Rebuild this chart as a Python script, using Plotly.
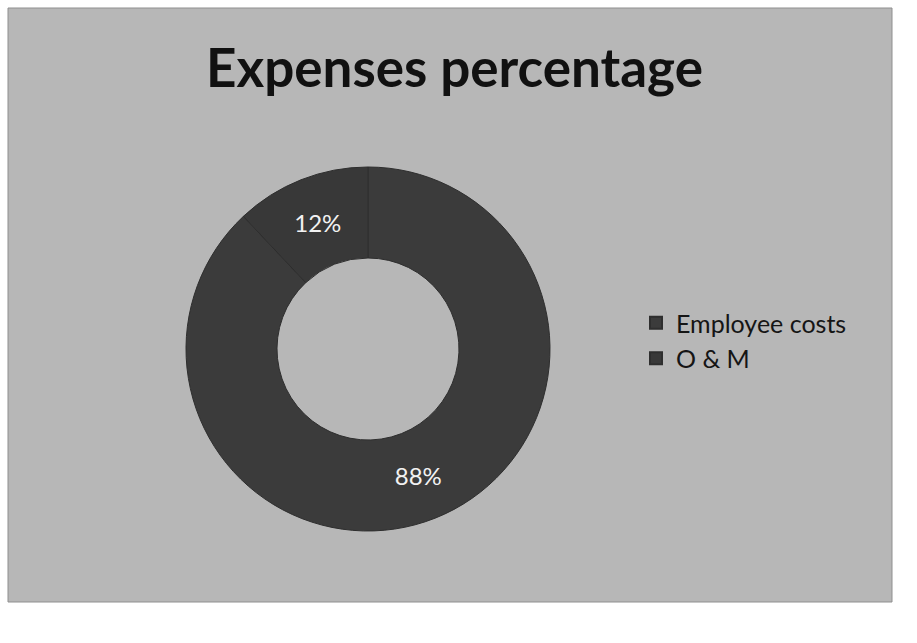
import plotly.graph_objects as go

# Data
categories = ["Employee costs", "O & M"]
values = [88, 12]
title_text = "Expenses percentage"

W, H = 917, 643

fig = go.Figure()
fig.add_trace(go.Pie(
    labels=categories,
    values=values,
    hole=0.5,
    sort=False,
    direction="clockwise",
    rotation=0,
    marker=dict(colors=["#3b3b3b", "#383838"], line=dict(color="#2e2e2e", width=1)),
    textinfo="percent",
    texttemplate="%{percent:.0%}",
    textposition="inside",
    insidetextorientation="horizontal",
    textfont=dict(family="Lato, Open Sans, sans-serif", size=24, color="#f2f2f2"),
    domain=dict(x=[186 / W, 550 / W], y=[1 - 531 / H, 1 - 167 / H]),
    showlegend=True,
))

fig.update_layout(
    width=W, height=H,
    margin=dict(l=0, r=0, t=0, b=0),
    paper_bgcolor="white",
    plot_bgcolor="rgba(0,0,0,0)",
    shapes=[
        dict(type="rect", xref="paper", yref="paper",
             x0=8 / W, x1=892 / W, y0=1 - 602 / H, y1=1 - 8 / H,
             fillcolor="#b7b7b7", line=dict(color="#8f8f8f", width=1), layer="below"),
    ],
    annotations=[
        dict(text="<b>" + title_text + "</b>", x=454 / W, y=1 - 66 / H,
             xref="paper", yref="paper", showarrow=False,
             xanchor="center", yanchor="middle",
             font=dict(family="Lato, Open Sans, sans-serif", size=53, color="#111111")),
    ],
    legend=dict(
        x=636 / W, y=1 - 300 / H, xanchor="left", yanchor="top",
        bgcolor="rgba(0,0,0,0)",
        font=dict(family="Lato, Open Sans, sans-serif", size=25, color="#151515"),
        itemsizing="constant",
        tracegroupgap=0,
    ),
)

fig.write_html("out.html")
